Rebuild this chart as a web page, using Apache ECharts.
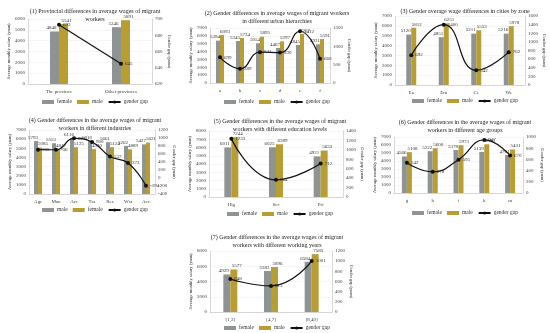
<!DOCTYPE html>
<html><head><meta charset="utf-8">
<script src="https://cdn.jsdelivr.net/npm/echarts@6/dist/echarts.min.js"></script>
<style>html,body{margin:0;padding:0;background:#fff}#c{width:550px;height:333px}</style>
</head><body><div id="c"></div>
<script>
// Panel 1
const cats1 = ['The province', 'Other provinces'];
const female1 = [4848, 5246];
const male1 = [5541, 5891];
const gap1 = [693, 645];
// Panel 2
const cats2 = ['a', 'b', 'c', 'd', 'e', 'f'];
const female2 = [5394, 5345, 5054, 4467, 4845, 4931];
const male2 = [6093, 5734, 5895, 5297, 6257, 5591];
const gap2 = [699, 389, 841, 830, 1412, 660];
// Panel 3
const cats3 = ['Ea', 'Em', 'Ce', 'We'];
const female3 = [5120, 4851, 5211, 5216];
const male3 = [5812, 6251, 5553, 5978];
const gap3 = [692, 1400, 342, 762];
// Panel 4 (male first)
const cats4 = ['Agr', 'Man', 'Arc', 'Tra', 'Res', 'Wst', 'Acc'];
const male4 = [5793, 5553, 6116, 5810, 5661, 5262, 5427];
const female4 = [5085, 4847, 5125, 4910, 5124, 4889, 5621];
const gap4 = [708, 706, 991, 900, 537, 373, -194];
// Panel 5
const cats5 = ['Hig', 'Sec', 'Pri'];
const female5 = [6011, 6025, 4921];
const male5 = [7244, 6389, 5633];
const gap5 = [1233, 364, 712];
// Panel 6
const cats6 = ['g', 'h', 'i', 'k', 'm'];
const female6 = [4566, 5222, 5378, 5139, 4761];
const male6 = [5108, 5600, 5973, 6086, 5431];
const gap6 = [542, 378, 595, 947, 670];
// Panel 7
const cats7 = ['[1,3]', '[4,7]', '[8,40]'];
const female7 = [4929, 5383, 6584];
const male7 = [5577, 5896, 7585];
const gap7 = [648, 513, 1001];

const GRAY = '#8e9493', GOLD = '#b89d33';
const FONT = 'Liberation Serif';

const panels = [
  {title:'(1) Provincial differences in average wages of migrant\nworkers', cats:cats1, s:[['female',female1,GRAY],['male',male1,GOLD]], gap:gap1,
   rect:[28,19,152,84], tx:90, ty:3, ly:99, lmax:6000, lint:1000, rmin:620, rmax:700, rint:20, bw:9, smooth:false},
  {title:'(2) Gender differences in average wages of migrant workers\nin different urban hierarchies', cats:cats2, s:[['female',female2,GRAY],['male',male2,GOLD]], gap:gap2,
   rect:[210,28,330,83], tx:272, ty:5, ly:99, lmax:7000, lint:1000, rmin:0, rmax:1500, rint:500, bw:4, smooth:true},
  {title:'(3) Gender average wage differences in cities by zone', cats:cats3, s:[['female',female3,GRAY],['male',male3,GOLD]], gap:gap3,
   rect:[395,16,525,85], tx:460, ty:3, ly:98, lmax:7000, lint:1000, rmin:0, rmax:1600, rint:200, bw:5, smooth:true},
  {title:'(4) Gender differences in the average wages of migrant\nworkers in different industries', cats:cats4, s:[['male',male4,GRAY],['female',female4,GOLD]], gap:gap4,
   rect:[29,130,155,194], tx:90, ty:112, ly:207, lmax:7000, lint:1000, rmin:-400, rmax:1200, rint:200, bw:4, smooth:true},
  {title:'(5) Gender differences in the average wages of migrant\nworkers with different education levels', cats:cats5, s:[['female',female5,GRAY],['male',male5,GOLD]], gap:gap5,
   rect:[209,131,343,197], tx:275, ty:113, ly:211, lmax:8000, lint:1000, rmin:0, rmax:1400, rint:200, bw:7, smooth:true},
  {title:'(6) Gender differences in the average wages of migrant\nworkers in different age groups', cats:cats6, s:[['female',female6,GRAY],['male',male6,GOLD]], gap:gap6,
   rect:[394,137,523,193], tx:460, ty:114, ly:210, lmax:7000, lint:1000, rmin:0, rmax:1000, rint:200, bw:5, smooth:true},
  {title:'(7) Gender differences in the average wages of migrant\nworkers with different working years', cats:cats7, s:[['female',female7,GRAY],['male',male7,GOLD]], gap:gap7,
   rect:[210,251,332,312], tx:272, ty:229, ly:325, lmax:8000, lint:2000, rmin:0, rmax:1200, rint:200, bw:7, smooth:true}
];

const opt = {animation:false, backgroundColor:'#fff', title:[], legend:[], grid:[], xAxis:[], yAxis:[], series:[]};
const axLine = {show:true, lineStyle:{color:'#bfbfbf', width:0.6}};
const tickFont = {fontFamily:FONT, fontSize:5, color:'#404040', formatter: v => String(v)};
const plain = p => String(p.value);
panels.forEach((p, i) => {
  const [x0,y0,x1,y1] = p.rect;
  opt.title.push({text:p.title, left:p.tx, top:p.ty, textAlign:'center',
    textStyle:{fontFamily:FONT, fontSize:6, fontWeight:'normal', color:'#222', lineHeight:7.5}});
  opt.grid.push({left:x0, top:y0, width:x1-x0, height:y1-y0, containLabel:false});
  opt.xAxis.push({type:'category', gridIndex:i, data:p.cats, axisLine:axLine, axisTick:{show:false},
    axisLabel:{margin:5, interval:0, fontFamily:FONT, fontSize:5, color:'#404040'}});
  opt.yAxis.push({type:'value', gridIndex:i, min:0, max:p.lmax, interval:p.lint,
    name:'Average monthly salary (yuan)', nameLocation:'middle', nameGap:16, nameRotate:90,
    nameTextStyle:{fontFamily:FONT, fontSize:4.5, color:'#333'},
    axisLine:axLine, axisTick:{show:false}, splitLine:{show:true, lineStyle:{color:'#ececec', width:0.5}},
    axisLabel:Object.assign({margin:3}, tickFont)});
  opt.yAxis.push({type:'value', gridIndex:i, min:p.rmin, max:p.rmax, interval:p.rint, position:'right',
    name:'Gender gap (yuan)', nameLocation:'middle', nameGap:15, nameRotate:-90,
    nameTextStyle:{fontFamily:FONT, fontSize:4.5, color:'#333'},
    axisLine:axLine, axisTick:{show:false}, splitLine:{show:false},
    axisLabel:Object.assign({margin:3}, tickFont)});
  p.s.forEach((s, k) => {
    opt.series.push({type:'bar', name:s[0], xAxisIndex:i, yAxisIndex:2*i, data:s[1], barWidth:p.bw, barGap:'0%',
      itemStyle:{color:s[2]},
      label:{show:true, position:'top', distance:1, offset:[k===0?-3:3, 0], formatter:plain, fontFamily:FONT, fontSize:5, color:'#333'}});
  });
  opt.series.push({type:'line', name:'gender gap', xAxisIndex:i, yAxisIndex:2*i+1, data:p.gap, smooth:p.smooth,
    symbol:'circle', symbolSize:4, itemStyle:{color:'#111'}, lineStyle:{color:'#111', width:1.2}, z:5,
    label:{show:true, position:'right', distance:2, formatter:plain, fontFamily:FONT, fontSize:5, color:'#333'}});
  opt.legend.push({left:p.tx - 48, top:p.ly, width:300, padding:0, itemWidth:12, itemHeight:4, itemGap:5,
    textStyle:{fontFamily:FONT, fontSize:5.5, color:'#333', padding:[0,0,0,-2]},
    data:[{name:p.s[0][0], itemStyle:{color:p.s[0][2]}, icon:'rect'},
          {name:p.s[1][0], itemStyle:{color:p.s[1][2]}, icon:'rect'},
          {name:'gender gap'}]});
});
const chart = echarts.init(document.getElementById('c'), null, {renderer:'canvas'});
chart.setOption(opt);
</script></body></html>
